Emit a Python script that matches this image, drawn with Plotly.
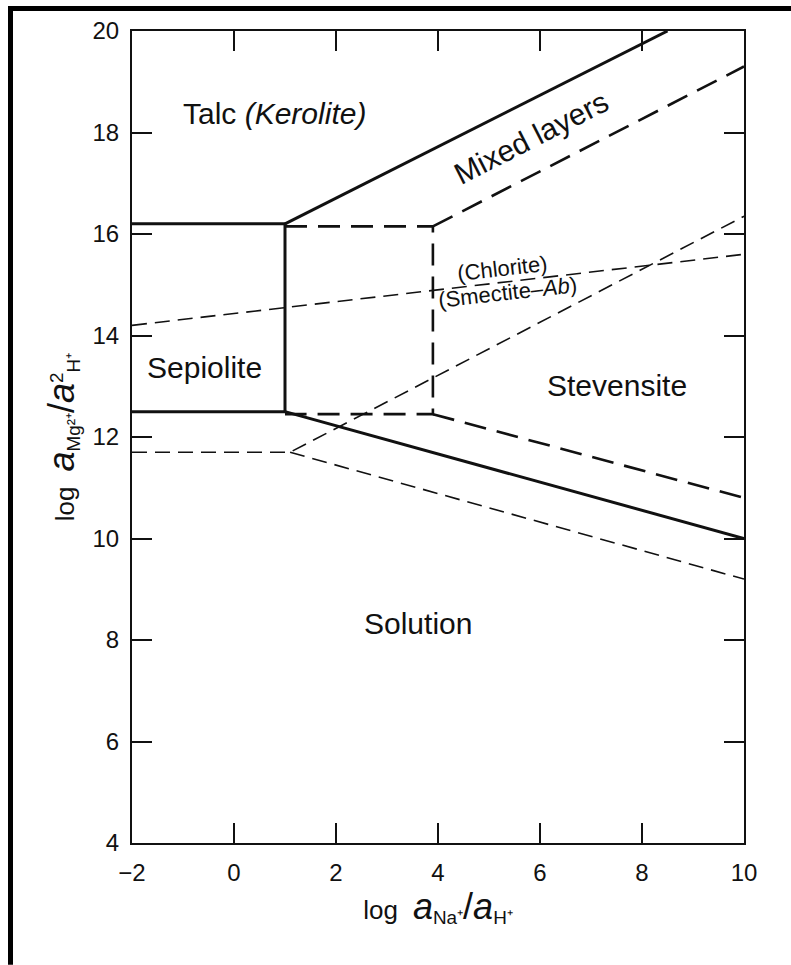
import plotly.graph_objects as go

# ---- data ----
x_ticks = [-2, 0, 2, 4, 6, 8, 10]
y_ticks = [4, 6, 8, 10, 12, 14, 16, 18, 20]

# solid phase boundaries
sep_top_x = [-2, 1];            sep_top_y = [16.2, 16.2]
sep_bot_x = [-2, 1];            sep_bot_y = [12.5, 12.5]
sep_right_x = [1, 1];           sep_right_y = [12.5, 16.2]
talc_upper_x = [1, 8.5];        talc_upper_y = [16.2, 20.0]
sol_lower_x = [1, 10];          sol_lower_y = [12.5, 10.0]

# long-dashed boundaries
box_x = [1, 3.9, 3.9, 1];       box_y = [16.15, 16.15, 12.45, 12.45]
mixed_x = [3.9, 10];            mixed_y = [16.15, 19.3]
stev_low_x = [3.9, 10];         stev_low_y = [12.45, 10.8]

# short-dashed boundaries
chl_x = [-2, 10];               chl_y = [14.2, 15.6]
dash_a_x = [-2, 1.1, 10];       dash_a_y = [11.7, 11.7, 16.35]
dash_b_x = [1.1, 10];           dash_b_y = [11.7, 9.2]

labels = [
    ("Talc <i>(Kerolite)</i>", 0.8, 18.38, 0, 30),
    ("Sepiolite", -0.58, 13.37, 0, 30),
    ("Stevensite", 7.5, 13.02, 0, 30),
    ("Solution", 3.6, 8.32, 0, 30),
    ("Mixed layers", 5.83, 17.9, -27, 30),
    ("(Chlorite)", 5.26, 15.33, -6.5, 22),
    ("(Smectite\u2013<i>Ab</i>)", 5.36, 14.84, -6.5, 22),
]

FONT = "Liberation Sans, Arial, Helvetica, sans-serif"
BLACK = "#111111"

fig = go.Figure()

def add_line(xs, ys, width, dash):
    fig.add_trace(go.Scatter(x=xs, y=ys, mode="lines",
                             line=dict(color=BLACK, width=width, dash=dash),
                             hoverinfo="skip", showlegend=False))

for xs, ys in [(sep_top_x, sep_top_y), (sep_bot_x, sep_bot_y),
               (sep_right_x, sep_right_y), (talc_upper_x, talc_upper_y),
               (sol_lower_x, sol_lower_y)]:
    add_line(xs, ys, 3, "solid")

for xs, ys in [(box_x, box_y), (mixed_x, mixed_y), (stev_low_x, stev_low_y)]:
    add_line(xs, ys, 2.6, "22px,11px")

for xs, ys in [(chl_x, chl_y), (dash_a_x, dash_a_y), (dash_b_x, dash_b_y)]:
    add_line(xs, ys, 1.6, "15px,8px")

for text, x, y, ang, size in labels:
    fig.add_annotation(x=x, y=y, text=text, showarrow=False, textangle=ang,
                       font=dict(family=FONT, size=size, color=BLACK),
                       xanchor="center", yanchor="middle")

# scanned-page frame (top and left black edges)
fig.add_shape(type="rect", xref="paper", yref="paper",
              x0=(8 - 132) / 612, x1=(791 - 132) / 612,
              y0=(843 - 10) / 813, y1=(843 - 5) / 813,
              fillcolor="black", line_width=0, layer="above")
fig.add_shape(type="rect", xref="paper", yref="paper",
              x0=(8 - 132) / 612, x1=(13 - 132) / 612,
              y0=(843 - 965) / 813, y1=(843 - 5) / 813,
              fillcolor="black", line_width=0, layer="above")

axis_common = dict(showgrid=False, zeroline=False, showline=True,
                   linecolor=BLACK, linewidth=2, mirror="ticks",
                   ticks="inside", ticklen=20, tickwidth=1.5, tickcolor=BLACK,
                   tickfont=dict(family=FONT, size=24, color=BLACK))

LOG = "<span style='font-size:26px'>log</span>"
A = "<span style='font-size:36px'><i>a</i></span>"
SL = "<span style='font-size:36px'>/</span>"
x_title = f"   {LOG}  {A}<sub>Na\u207a</sub>{SL}{A}<sub>H\u207a</sub>"
y_title = f"{LOG}  {A}<sub>Mg\u00b2\u207a</sub>{SL}{A}<sup>2</sup><sub>H\u207a</sub>"

fig.update_layout(
    width=791, height=965,
    margin=dict(l=132, r=47, t=31, b=122),
    paper_bgcolor="white", plot_bgcolor="white",
    xaxis=dict(range=[-2, 10], tickvals=x_ticks, ticklabelstandoff=7,
               title=dict(text=x_title,
                          font=dict(family=FONT, size=27, color=BLACK), standoff=12),
               **axis_common),
    yaxis=dict(range=[4, 20], tickvals=y_ticks, ticklabelstandoff=6,
               title=dict(text=y_title,
                          font=dict(family=FONT, size=27, color=BLACK), standoff=10),
               **axis_common),
)

fig.write_html("out.html")
